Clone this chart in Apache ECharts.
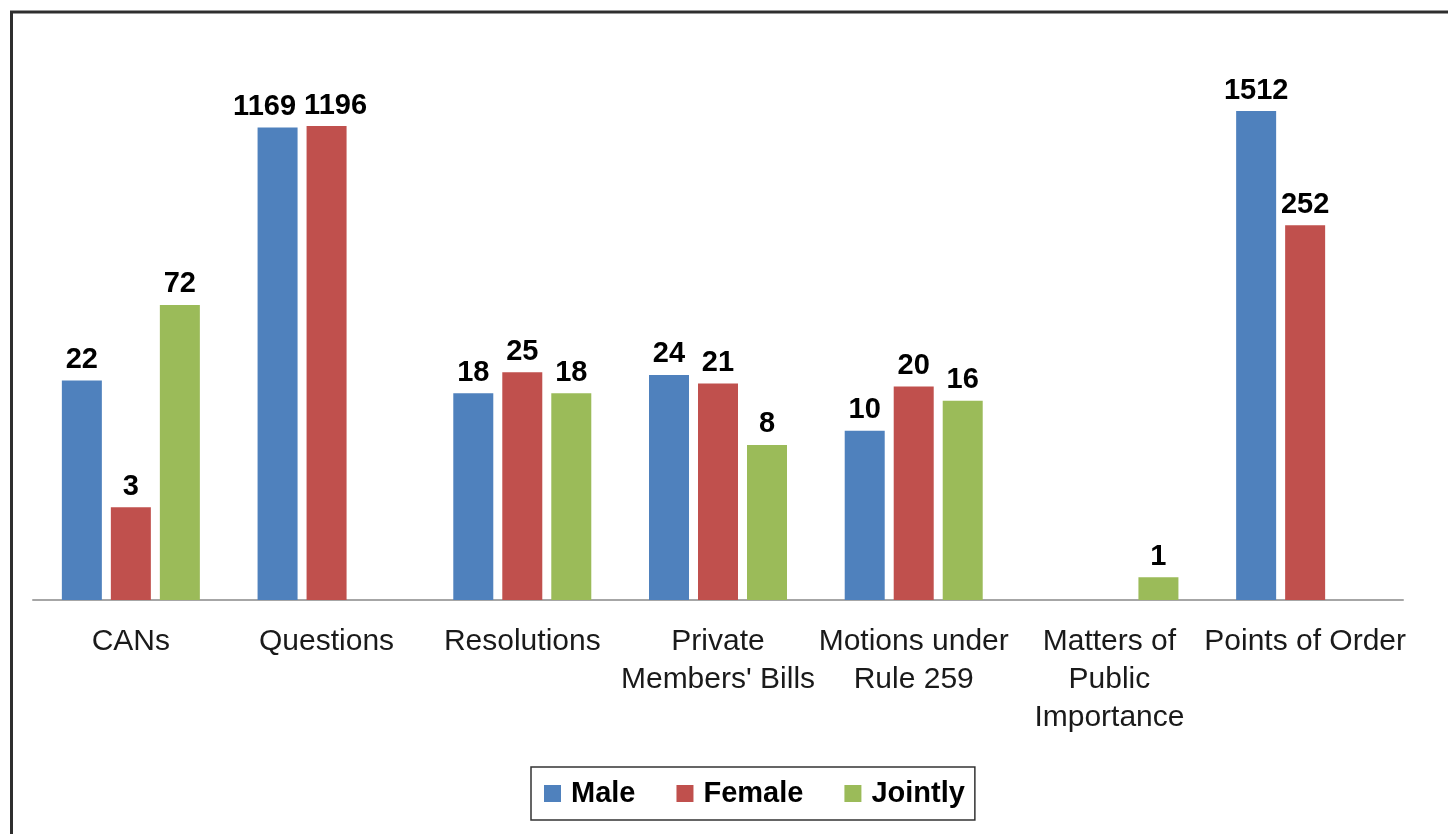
<!DOCTYPE html>
<html>
<head>
<meta charset="utf-8">
<script src="https://cdn.jsdelivr.net/npm/echarts@6/dist/echarts.min.js"></script>
<style>
  html, body { margin: 0; padding: 0; background: #fff; }
  #chart { width: 1448px; height: 834px; }
</style>
</head>
<body>
<div id="chart"></div>
<script>
// Business taken up in the House, by who moved it
const categories = [
  'CANs',
  'Questions',
  'Resolutions',
  "Private\nMembers' Bills",
  'Motions under\nRule 259',
  'Matters of\nPublic\nImportance',
  'Points of Order'
];
const male    = [22, 1169, 18, 24, 10, null, 1512];
const female  = [3, 1196, 25, 21, 20, null, 252];
const jointly = [72, null, 18, 8, 16, 1, null];

const seriesNames  = ['Male', 'Female', 'Jointly'];
const seriesColors = ['#4f81bd', '#c0504d', '#9bbb59'];
const seriesData   = [male, female, jointly];

// The two tall Questions bars sit side by side; nudge their labels apart
// so the numbers do not run into each other.
const labelNudge = { 0: { 1: -13 }, 1: { 1: 9 } };

const FONT = 'Helvetica, "Liberation Sans", Arial, sans-serif';

const chart = echarts.init(document.getElementById('chart'), null, { renderer: 'canvas' });

function buildItems(seriesIndex) {
  return seriesData[seriesIndex].map((v, j) => {
    const dx = labelNudge[seriesIndex] && labelNudge[seriesIndex][j];
    if (v == null || !dx) return v;
    return { value: v, label: { offset: [dx, 0] } };
  });
}

chart.setOption({
  backgroundColor: '#ffffff',
  animation: false,
  graphic: [{
    type: 'rect',
    shape: { x: 11.5, y: 12, width: 1470, height: 900 },
    style: { fill: 'none', stroke: '#2e2e2e', lineWidth: 3 },
    silent: true
  }],
  grid: { left: 33, right: 45, top: 100, bottom: 234, containLabel: false },
  xAxis: {
    type: 'category',
    data: categories,
    axisLine: { show: true, lineStyle: { color: '#a6a6a6', width: 2 } },
    axisTick: { show: false },
    axisLabel: {
      interval: 0,
      margin: 23,
      fontFamily: FONT,
      fontSize: 30,
      lineHeight: 38,
      color: '#1a1a1a',
      align: 'center'
    }
  },
  yAxis: {
    type: 'log',
    logBase: 10,
    min: 0.7,
    max: 1800,
    startValue: 0.7,
    show: false,
    splitLine: { show: false }
  },
  legend: {
    data: seriesNames,
    left: 531,
    top: 767,
    orient: 'horizontal',
    icon: 'rect',
    itemWidth: 17,
    itemHeight: 17,
    itemGap: 41,
    padding: [12, 10, 12, 13],
    borderColor: '#333333',
    borderWidth: 1.5,
    textStyle: {
      fontFamily: FONT,
      fontSize: 29,
      fontWeight: 'bold',
      color: '#000',
      padding: [0, 0, 0, 5]
    }
  },
  series: seriesNames.map((name, i) => ({
    name: name,
    type: 'bar',
    data: buildItems(i),
    barWidth: 40,
    barGap: '22.5%',
    itemStyle: { color: seriesColors[i] },
    label: {
      show: true,
      position: 'top',
      distance: 6,
      fontFamily: FONT,
      fontSize: 29,
      fontWeight: 'bold',
      color: '#000'
    }
  }))
});
</script>
</body>
</html>
